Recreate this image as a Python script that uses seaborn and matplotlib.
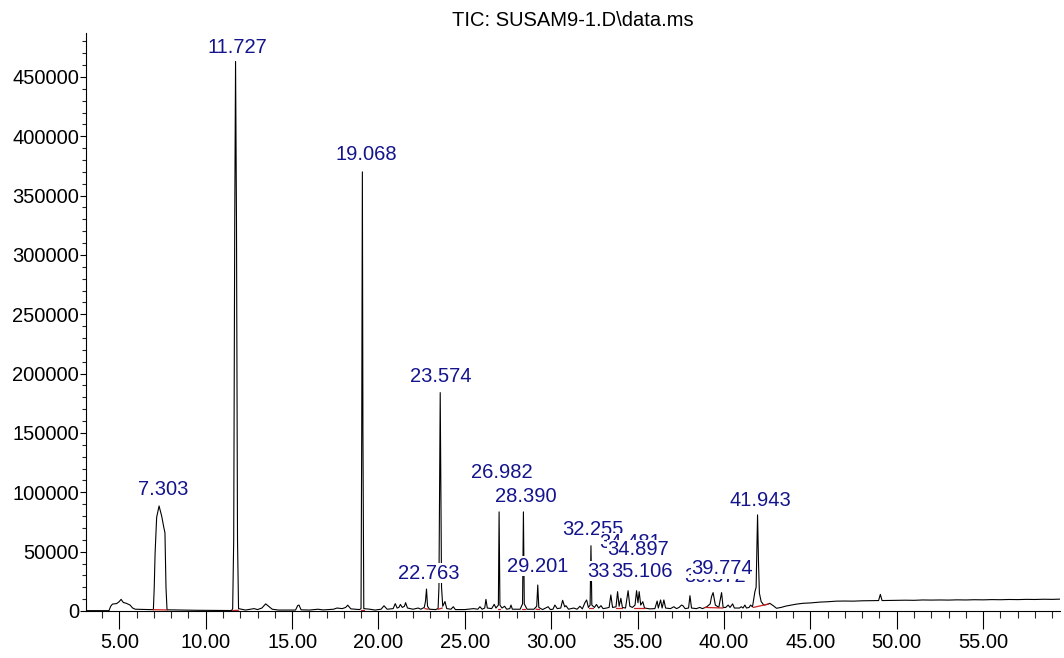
import numpy as np
import pandas as pd
import matplotlib
matplotlib.use("Agg")
import matplotlib.pyplot as plt
from matplotlib import font_manager
from matplotlib.ticker import MultipleLocator, FormatStrFormatter
import seaborn as sns

# ---------------- data ----------------
trace_time = [
    3.07, 4.40, 4.50, 4.60, 4.85, 5.00, 5.10, 5.23, 5.40, 5.62, 5.77, 5.92, 6.50, 6.97,
    7.02, 7.07, 7.16, 7.30, 7.45, 7.58, 7.64, 7.70, 7.76,
    8.5, 9.5, 10.5, 11.50,
    11.56, 11.62, 11.68, 11.727, 11.78, 11.84, 11.90,
    12.3, 12.6, 12.8, 13.0, 13.25, 13.47, 13.6, 13.85, 14.2, 15.2, 15.32, 15.40, 15.52,
    16.0, 16.5, 16.8, 17.4, 17.6, 17.9, 18.1, 18.22, 18.4, 18.9,
    18.99, 19.03, 19.068, 19.10, 19.15,
    19.5, 19.8, 20.15, 20.32, 20.5, 20.85, 20.97, 21.08, 21.18, 21.27, 21.38, 21.50, 21.57,
    21.68, 22.0, 22.3, 22.45, 22.65,
    22.72, 22.78, 22.84, 22.95, 23.3, 23.45,
    23.50, 23.574, 23.65, 23.72, 23.85, 23.95, 24.2, 24.33, 24.45, 25.0, 25.5, 25.75, 25.87,
    26.0, 26.15, 26.22, 26.30, 26.55, 26.70, 26.80,
    26.94, 26.982, 27.03, 27.15, 27.30, 27.42, 27.60, 27.67, 27.75, 28.2,
    28.34, 28.39, 28.44, 28.6, 29.0,
    29.16, 29.22, 29.28, 29.5, 29.82, 29.95, 30.1, 30.21, 30.35, 30.55, 30.66, 30.78, 30.85,
    31.0, 31.3, 31.5, 31.66, 31.8, 31.95, 32.05, 32.15,
    32.25, 32.30, 32.35, 32.5, 32.62, 32.75, 32.88, 33.0, 33.2, 33.35, 33.45, 33.55, 33.75,
    33.84, 33.93, 34.03, 34.12, 34.3, 34.45, 34.55, 34.7, 34.85, 34.94, 35.02, 35.09, 35.18,
    35.3, 35.4, 35.7, 36.0, 36.13, 36.2, 36.33, 36.42, 36.52, 36.62, 36.9, 37.1, 37.25, 37.4,
    37.54, 37.62, 37.75, 37.95, 38.03, 38.12, 38.4, 38.6, 38.75, 39.0, 39.2, 39.28, 39.37,
    39.5, 39.7, 39.86, 39.95, 40.1, 40.24, 40.35, 40.5, 40.6, 40.9, 41.0, 41.1, 41.21, 41.3,
    41.45, 41.54, 41.65, 41.79, 41.86,
    41.943, 42.0, 42.05, 42.15, 42.3, 42.5, 42.65, 42.85, 43.04, 43.3, 43.6, 43.9, 44.2,
    44.58, 45.0, 45.55, 46.0, 46.5, 47.0, 47.5, 48.0, 48.5, 48.95, 49.05, 49.15, 49.6, 50.0,
    50.5, 51.0, 51.5, 52.0, 52.5, 53.0, 53.5, 54.0, 54.5, 55.0, 55.5, 56.0, 56.5, 57.0, 57.5,
    58.0, 58.5, 59.0, 59.45,
]
trace_abundance = [
    300, 300, 4000, 5800, 6300, 8000, 9800, 7200, 6500, 5000, 2500, 1500, 1300, 1100,
    20000, 49000, 79000, 88500, 80000, 70000, 66000, 20000, 1000,
    800, 600, 500, 400,
    2000, 60000, 330000, 463000, 330000, 60000, 2000,
    800, 1500, 2000, 1200, 2500, 6000, 4500, 1500, 800, 800, 4500, 5000, 1000,
    800, 1500, 900, 1500, 2500, 2000, 3000, 4900, 1800, 1200,
    2000, 150000, 370000, 150000, 2000,
    1500, 800, 1500, 4400, 1500, 2000, 6200, 2500, 3000, 5500, 3000, 4000, 7000,
    2500, 1500, 2500, 1500, 3000,
    8000, 18500, 4000, 1500, 1200, 2000,
    20000, 184000, 20000, 4000, 8000, 2000, 1500, 3600, 1200, 1200, 2000, 1500, 3600,
    1500, 2500, 9800, 2500, 2000, 5600, 2500,
    5000, 83500, 5000, 2500, 4000, 1500, 2000, 5000, 1500, 1500,
    6000, 83500, 6000, 1500, 1500,
    4000, 21900, 3000, 1200, 3600, 1200, 1500, 5000, 2000, 2500, 9000, 3500, 4500,
    1500, 2500, 1500, 4000, 1800, 7000, 9300, 3000,
    5000, 55000, 5000, 3000, 5500, 2500, 4500, 2000, 2500, 3000, 13500, 3000, 3500,
    16300, 4000, 10700, 3000, 2500, 17100, 4000, 3000, 5000, 17100, 7000, 16300, 5000,
    7800, 2500, 1800, 2000, 8400, 2500, 9300, 2500, 9300, 2500, 2000, 3600, 2000, 3000,
    5000, 4500, 2000, 2500, 12900, 2500, 2000, 3000, 2000, 3500, 6000, 12100, 15500,
    5000, 3000, 15500, 3000, 3000, 5000, 3000, 6000, 2500, 2500, 3600, 2500, 5000, 2500,
    3000, 5000, 3500, 16300, 20000,
    81000, 40000, 15000, 8000, 5000, 5500, 6500, 4500, 2300, 3000, 4200, 5000, 5800,
    6500, 6800, 7500, 7800, 8300, 8400, 8300, 8600, 8700, 8800, 14000, 8800, 8900, 9000,
    9100, 9000, 9300, 9200, 9300, 9200, 9400, 9300, 9500, 9400, 9600, 9500, 9700, 9600, 9800,
    9700, 9900, 9800, 10000,
]

# integration baselines (red)
int_start = [6.97, 11.56, 18.99, 22.68, 23.46, 26.92, 28.30, 29.12, 32.20, 33.75, 34.80, 38.90, 41.70]
int_end = [7.76, 11.90, 19.15, 22.88, 23.70, 27.05, 28.48, 29.32, 32.40, 34.10, 35.40, 39.95, 42.60]
int_level_start = [1100, 400, 1200, 2000, 1500, 2000, 1500, 1500, 2500, 2500, 2500, 3000, 3000]
int_level_end = [900, 600, 1200, 1500, 2500, 2000, 1500, 1200, 2500, 2500, 2500, 2500, 6000]

# peak labels (text, anchor time, anchor abundance)
label_text = ["7.303", "11.727", "19.068", "22.763", "23.574", "26.982", "28.390", "29.201",
              "32.255", "34.481", "34.897", "33.837", "35.106", "39.372", "39.774", "41.943"]
label_time = [7.56, 11.84, 19.28, 22.92, 23.62, 27.15, 28.53, 29.23,
              32.41, 34.55, 35.02, 33.86, 35.25, 39.47, 39.88, 42.13]
label_level = [102000, 474700, 384500, 32000, 197300, 116400, 96100, 37900,
               68300, 57300, 51400, 33700, 32900, 28700, 35400, 92800]

title_text = "TIC: SUSAM9-1.D\\data.ms"

# ---------------- styling ----------------
sns.set_style("ticks")
names = {f.name for f in font_manager.fontManager.ttflist}
if "Liberation Sans Narrow" in names:
    fam, fs = "Liberation Sans Narrow", 17.5
else:
    fam, fs = "Liberation Sans", 14.5
plt.rcParams["font.family"] = [fam, "DejaVu Sans"]

fig = plt.figure(figsize=(10.64, 6.58), dpi=100)
ax = fig.add_axes([86 / 1064, 1 - 611 / 658, (1060 - 86) / 1064, (611 - 33) / 658])

df = pd.DataFrame({"time": trace_time, "abundance": trace_abundance})
sns.lineplot(data=df, x="time", y="abundance", ax=ax, color="black", lw=0.8,
             sort=False, estimator=None, zorder=2)

for s, e, y0, y1 in zip(int_start, int_end, int_level_start, int_level_end):
    seg = pd.DataFrame({"time": [s, e], "abundance": [y0, y1]})
    sns.lineplot(data=seg, x="time", y="abundance", ax=ax, color="#c81e1e", lw=0.9,
                 sort=False, estimator=None, zorder=2.5)

for txt, t, lvl in zip(label_text, label_time, label_level):
    ax.text(t, lvl, txt, ha="center", va="center", color="#14148c", fontsize=fs,
            zorder=3, bbox=dict(facecolor="white", edgecolor="none", pad=0.3))

ax.set_xlim(3.07, 59.45)
ax.set_ylim(0, 487000)
ax.set_xlabel("")
ax.set_ylabel("")
ax.set_title(title_text, fontsize=fs, pad=5, color="black")

ax.xaxis.set_major_locator(MultipleLocator(5))
ax.xaxis.set_minor_locator(MultipleLocator(1))
ax.xaxis.set_major_formatter(FormatStrFormatter("%.2f"))
ax.yaxis.set_major_locator(MultipleLocator(50000))
ax.yaxis.set_minor_locator(MultipleLocator(10000))
ax.yaxis.set_major_formatter(FormatStrFormatter("%d"))

ax.tick_params(axis="x", which="major", direction="out", length=13, width=0.8, pad=3,
               labelsize=fs, colors="black")
ax.tick_params(axis="x", which="minor", direction="out", length=5, width=0.8)
ax.tick_params(axis="y", which="major", direction="out", length=4, width=0.8, pad=1,
               labelsize=fs, colors="black")
ax.tick_params(axis="y", which="minor", direction="out", length=3, width=0.8)

sns.despine(ax=ax)
for sp in ("left", "bottom"):
    ax.spines[sp].set_linewidth(0.8)
    ax.spines[sp].set_color("black")
ax.grid(False)

fig.savefig("out.png", dpi=100, facecolor="white")
